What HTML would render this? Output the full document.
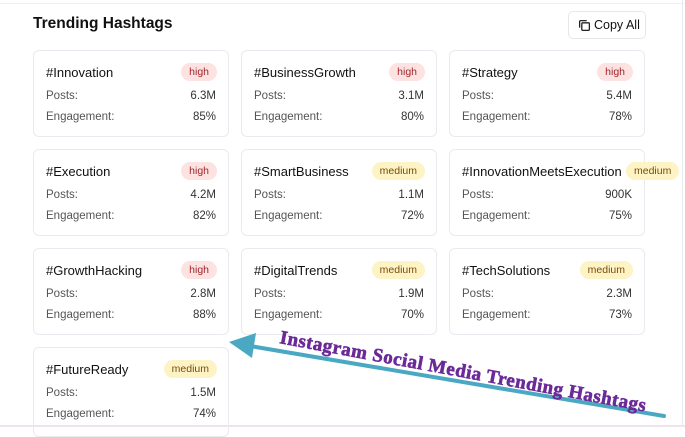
<!DOCTYPE html>
<html><head><style>
body{margin:0;width:685px;height:427px;overflow:hidden;background:#fff;font-family:"Liberation Sans",sans-serif;position:relative}
.top{position:absolute;left:0;top:0;width:685px;height:3px;border-bottom:1px solid #eceef2}
.rl{position:absolute;left:682px;top:0;width:1px;height:427px;background:#e8ebf0}
.bot{position:absolute;left:0;top:425px;width:685px;height:2px;background:#efe4ee}
h1{position:absolute;left:33px;top:15px;margin:0;font-size:15.5px;font-weight:bold;color:#111}
.btn{position:absolute;left:568px;top:11px;width:78px;height:28px;border:1px solid #e5e7eb;border-radius:5px;box-sizing:border-box;font-size:12.5px;color:#111;line-height:26px}
.card{position:absolute;width:196px;height:87px;border:1px solid #e8eaef;border-radius:6px;box-sizing:border-box}
.t{position:absolute;left:12px;top:14px;font-size:13px;color:#111}
.b{position:absolute;top:12px;height:18px;line-height:18px;border-radius:9px;font-size:10.5px;padding:0 8px}
.h{background:#fde2e2;color:#a3262c;right:11px}
.m{background:#fdf3c4;color:#7a4c0b}
.r{position:absolute;left:12px;right:12px;font-size:11.5px;color:#555}
.r span{float:right;color:#333}
</style></head><body>
<div class="top"></div><div class="rl"></div><div class="bot"></div>
<h1>Trending Hashtags</h1>
<div class="btn"><svg style="position:absolute;left:9px;top:7px" width="13" height="13" viewBox="0 0 12 12"><rect x="3.5" y="3.5" width="7" height="7" rx="1" fill="none" stroke="#222" stroke-width="1.2"/><path d="M1.5 8V2.5a1 1 0 0 1 1-1H8" fill="none" stroke="#222" stroke-width="1.2"/></svg><span style="position:absolute;left:25px">Copy All</span></div>

<div class="card" style="left:33px;top:50px"><div class="t">#Innovation</div><div class="b h">high</div><div class="r" style="top:39px">Posts:<span>6.3M</span></div><div class="r" style="top:60px">Engagement:<span>85%</span></div></div>
<div class="card" style="left:241px;top:50px"><div class="t">#BusinessGrowth</div><div class="b h">high</div><div class="r" style="top:39px">Posts:<span>3.1M</span></div><div class="r" style="top:60px">Engagement:<span>80%</span></div></div>
<div class="card" style="left:449px;top:50px"><div class="t">#Strategy</div><div class="b h">high</div><div class="r" style="top:39px">Posts:<span>5.4M</span></div><div class="r" style="top:60px">Engagement:<span>78%</span></div></div>

<div class="card" style="left:33px;top:149px"><div class="t">#Execution</div><div class="b h">high</div><div class="r" style="top:39px">Posts:<span>4.2M</span></div><div class="r" style="top:60px">Engagement:<span>82%</span></div></div>
<div class="card" style="left:241px;top:149px"><div class="t">#SmartBusiness</div><div class="b m" style="right:11px">medium</div><div class="r" style="top:39px">Posts:<span>1.1M</span></div><div class="r" style="top:60px">Engagement:<span>72%</span></div></div>
<div class="card" style="left:449px;top:149px"><div class="t">#InnovationMeetsExecution</div><div class="b m" style="left:176px">medium</div><div class="r" style="top:39px">Posts:<span>900K</span></div><div class="r" style="top:60px">Engagement:<span>75%</span></div></div>

<div class="card" style="left:33px;top:248px"><div class="t">#GrowthHacking</div><div class="b h">high</div><div class="r" style="top:39px">Posts:<span>2.8M</span></div><div class="r" style="top:60px">Engagement:<span>88%</span></div></div>
<div class="card" style="left:241px;top:248px"><div class="t">#DigitalTrends</div><div class="b m" style="right:11px">medium</div><div class="r" style="top:39px">Posts:<span>1.9M</span></div><div class="r" style="top:60px">Engagement:<span>70%</span></div></div>
<div class="card" style="left:449px;top:248px"><div class="t">#TechSolutions</div><div class="b m" style="right:11px">medium</div><div class="r" style="top:39px">Posts:<span>2.3M</span></div><div class="r" style="top:60px">Engagement:<span>73%</span></div></div>

<div class="card" style="left:33px;top:347px;height:90px"><div class="t">#FutureReady</div><div class="b m" style="right:11px">medium</div><div class="r" style="top:39px">Posts:<span>1.5M</span></div><div class="r" style="top:60px">Engagement:<span>74%</span></div></div>

<svg style="position:absolute;left:0;top:0" width="685" height="427">
<line x1="664" y1="416" x2="250" y2="346" stroke="#4aa8c2" stroke-width="4" stroke-linecap="round"/>
<polygon points="229,342 256,333 252,358" fill="#4aa8c2"/>
<text x="279" y="343" transform="rotate(10.6 279 343)" font-family="Liberation Serif,serif" font-weight="bold" font-size="19" fill="#6b2a98" stroke="#6b2a98" stroke-width="0.6" letter-spacing="0.5">Instagram Social Media Trending Hashtags</text>
</svg>
</body></html>
